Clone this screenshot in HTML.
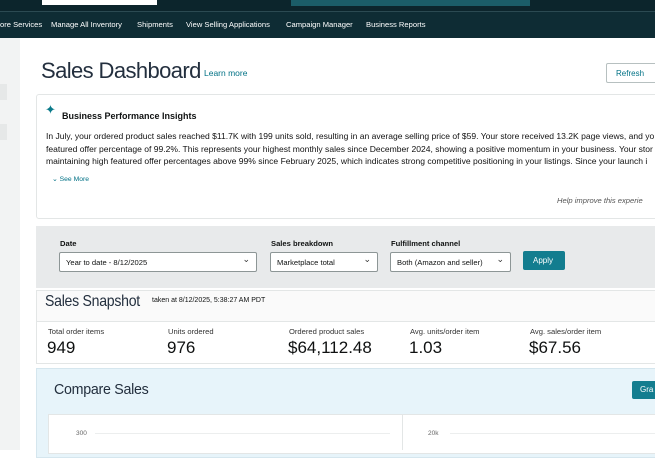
<!DOCTYPE html>
<html><head><meta charset="utf-8"><style>
*{margin:0;padding:0;box-sizing:border-box}
body{width:655px;height:450px;overflow:hidden;position:relative;background:#fff;font-family:"Liberation Sans",sans-serif;color:#0f1111}
.a{position:absolute;white-space:nowrap}
.nav{font-size:7.6px;color:#fff;top:20px}
.lbl{font-size:7.6px;font-weight:bold;top:239px}
.dd{position:absolute;top:252px;height:20px;background:#fff;border:1px solid #8d9696;border-radius:2px;font-size:7.6px;padding:5px 0 0 6px}
.dd:after{content:"⌄";position:absolute;right:6px;top:1px;font-size:9px;color:#333}
.sl{font-size:7.6px;color:#333;top:327px}
.sv{font-size:17px;top:338px}
.ins{font-size:8.55px;color:#111;left:46px}
</style></head><body>
<div class="a" style="left:0;top:0;width:655px;height:12px;background:#0c252c"></div>
<div class="a" style="left:42px;top:0;width:115px;height:5px;background:#fff"></div>
<div class="a" style="left:291px;top:0;width:239px;height:6px;background:#1b5d68"></div>
<div class="a" style="left:0;top:11px;width:655px;height:1px;background:#2b4a52"></div>
<div class="a" style="left:0;top:12px;width:655px;height:26px;background:#0e2c34"></div>
<div class="a nav" style="left:0">ore Services</div>
<div class="a nav" style="left:51px">Manage All Inventory</div>
<div class="a nav" style="left:137px">Shipments</div>
<div class="a nav" style="left:186px">View Selling Applications</div>
<div class="a nav" style="left:286px">Campaign Manager</div>
<div class="a nav" style="left:366px">Business Reports</div>

<div class="a" style="left:0;top:38px;width:20px;height:412px;background:#f2f3f3"></div>
<div class="a" style="left:0;top:84px;width:7px;height:16px;background:#e6e8e8"></div>
<div class="a" style="left:0;top:124px;width:7px;height:16px;background:#e6e8e8"></div>

<div class="a" style="left:41px;top:58px;font-size:22px;letter-spacing:-0.6px;color:#232f3e">Sales Dashboard</div>
<div class="a" style="left:204px;top:68px;font-size:8.5px;color:#007185">Learn more</div>
<div class="a" style="left:606px;top:63px;width:52px;height:20px;border:1px solid #b7c0c0;border-radius:2px;font-size:8px;color:#007185;padding:5px 0 0 9px">Refresh</div>

<div class="a" style="left:36px;top:94px;width:640px;height:125px;border:1px solid #e3e6e6;border-radius:3px"></div>
<div class="a" style="left:45px;top:102px;font-size:13px;color:#0a7a8a">✦</div>
<div class="a" style="left:62px;top:111px;font-size:9px;font-weight:bold">Business Performance Insights</div>
<div class="a ins" style="top:131px">In July, your ordered product sales reached $11.7K with 199 units sold, resulting in an average selling price of $59. Your store received 13.2K page views, and yo</div>
<div class="a ins" style="top:144px">featured offer percentage of 99.2%. This represents your highest monthly sales since December 2024, showing a positive momentum in your business. Your stor</div>
<div class="a ins" style="top:156px">maintaining high featured offer percentages above 99% since February 2025, which indicates strong competitive positioning in your listings. Since your launch i</div>
<div class="a" style="left:52px;top:175px;font-size:6.8px;color:#007185">⌄ See More</div>
<div class="a" style="left:557px;top:196px;font-size:7.6px;font-style:italic;color:#555">Help improve this experie</div>

<div class="a" style="left:36px;top:226px;width:630px;height:62px;background:#e8eaeb"></div>
<div class="a lbl" style="left:60px">Date</div>
<div class="a lbl" style="left:271px">Sales breakdown</div>
<div class="a lbl" style="left:391px">Fulfillment channel</div>
<div class="dd" style="left:59px;width:198px">Year to date - 8/12/2025</div>
<div class="dd" style="left:270px;width:108px">Marketplace total</div>
<div class="dd" style="left:390px;width:121px">Both (Amazon and seller)</div>
<div class="a" style="left:523px;top:251px;width:42px;height:19px;background:#137d8f;border-radius:2px;color:#fff;font-size:8px;padding:5px 0 0 10px">Apply</div>

<div class="a" style="left:36px;top:290px;width:630px;height:74px;border:1px solid #e3e6e6;background:#fff"></div>
<div class="a" style="left:37px;top:291px;width:630px;height:31px;background:#fafafa;border-bottom:1px solid #e3e6e6"></div>
<div class="a" style="left:45px;top:293px;font-size:16px;letter-spacing:-0.3px;color:#232f3e;transform:scaleX(0.88);transform-origin:left">Sales Snapshot</div>
<div class="a" style="left:152px;top:297px;font-size:7px">taken at 8/12/2025, 5:38:27 AM PDT</div>
<div class="a sl" style="left:48px">Total order items</div>
<div class="a sl" style="left:168px">Units ordered</div>
<div class="a sl" style="left:289px">Ordered product sales</div>
<div class="a sl" style="left:410px">Avg. units/order item</div>
<div class="a sl" style="left:530px">Avg. sales/order item</div>
<div class="a sv" style="left:47px">949</div>
<div class="a sv" style="left:167px">976</div>
<div class="a sv" style="left:288px">$64,112.48</div>
<div class="a sv" style="left:409px">1.03</div>
<div class="a sv" style="left:529px">$67.56</div>

<div class="a" style="left:36px;top:368px;width:630px;height:90px;background:#e7f4fa;border:1px solid #d5e6ee"></div>
<div class="a" style="left:54px;top:381px;font-size:15px;letter-spacing:-0.3px;color:#232f3e;transform:scaleX(0.95);transform-origin:left">Compare Sales</div>
<div class="a" style="left:632px;top:381px;width:40px;height:18px;background:#137d8f;border-radius:2px;color:#fff;font-size:8px;padding:4px 0 0 8px">Gra</div>
<div class="a" style="left:48px;top:414px;width:620px;height:40px;background:#fff;border:1px solid #e3e6e6"></div>
<div class="a" style="left:402px;top:414px;width:1px;height:36px;background:#e3e6e6"></div>
<div class="a" style="left:76px;top:430px;font-size:6.5px;color:#666">300</div>
<div class="a" style="left:95px;top:433px;width:295px;height:1px;background:#eceeee"></div>
<div class="a" style="left:428px;top:430px;font-size:6.5px;color:#666">20k</div>
<div class="a" style="left:450px;top:433px;width:205px;height:1px;background:#eceeee"></div>
</body></html>
